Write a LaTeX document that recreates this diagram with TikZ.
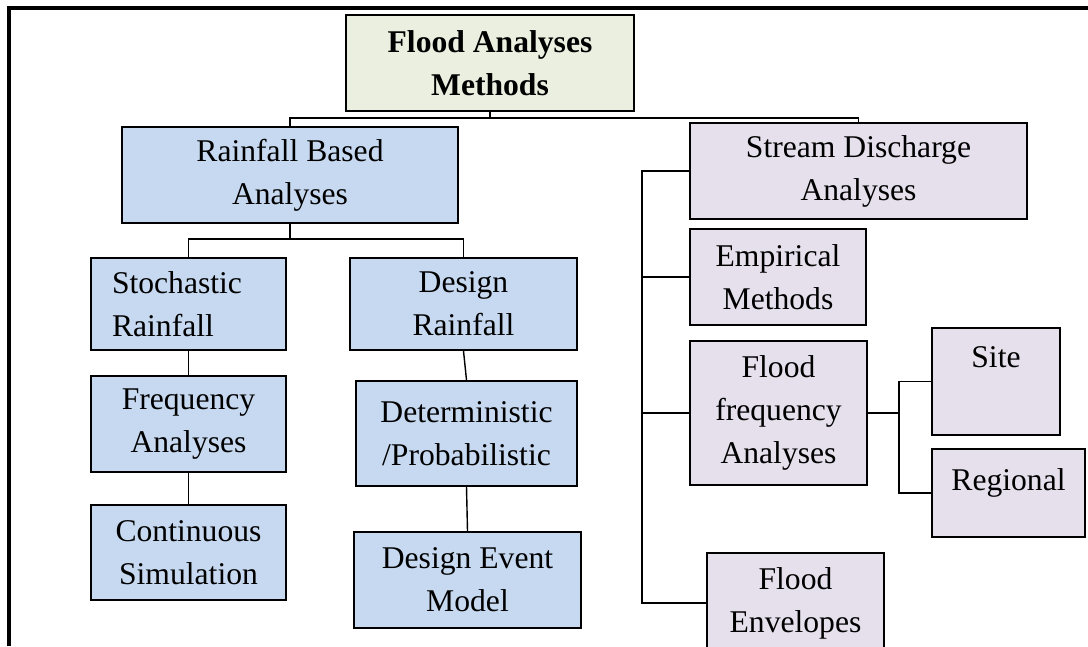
\documentclass[tikz,border=0pt]{standalone}
\usepackage{fontspec}
\setmainfont{Liberation Serif}
\usepackage{tikz}
\usepackage{xcolor}
\usetikzlibrary{positioning, calc}

\definecolor{titlegreen}{HTML}{EBEFDF}
\definecolor{rainblue}{HTML}{C6D9F0}
\definecolor{streamlilac}{HTML}{E5E0EC}

\begin{document}
\begin{tikzpicture}[
    x=0.02cm, y=-0.02cm,
    box/.style={font=\fontsize{18}{24.5}\selectfont, draw, line width=1pt, align=center, inner sep=2pt},
    titlebox/.style={box, fill=titlegreen, font=\fontsize{18}{24.5}\selectfont\bfseries},
    rbox/.style={box, fill=rainblue},
    sbox/.style={box, fill=streamlilac},
    link/.style={draw, line width=0.8pt}
]

  \useasboundingbox (0,0) rectangle (1088,646);
  \clip (0,0) rectangle (1088,646);

  % outer frame (cut at right and bottom)
  \coordinate (framebl) at (9,646);
  \coordinate (frametl) at (9,8);
  \coordinate (frametr) at (1088,8);
  \draw[line width=2pt] (framebl) -- (frametl) -- (frametr);

  % Top of the tree
  \node[titlebox, minimum width=5.76cm, minimum height=1.92cm] (title) at (490,63) {Flood Analyses\\Methods};

  % Rainfall side (blue boxes)
  \node[rbox, minimum width=6.72cm, minimum height=1.92cm] (rain) at (290,175) {Rainfall Based\\Analyses};
  \node[rbox, minimum width=3.9cm, minimum height=1.84cm, text width=3.06cm, align=left, inner xsep=0.42cm] (stoch) at (188.5,304) {Stochastic\\Rainfall};
  \node[rbox, minimum width=4.54cm, minimum height=1.84cm] (design) at (463.5,304) {Design\\Rainfall};
  \node[rbox, minimum width=3.9cm, minimum height=1.92cm] (freq) at (188.5,424) {Frequency\\Analyses};
  \node[rbox, minimum width=3.9cm, minimum height=1.9cm] (cont) at (188.5,552.5) {Continuous\\Simulation};
  \node[rbox, minimum width=4.42cm, minimum height=2.1cm] (determ) at (466.5,433.5) {Deterministic\\/Probabilistic};
  \node[rbox, minimum width=4.54cm, minimum height=1.92cm] (event) at (467.5,580) {Design Event\\Model};

  % Stream discharge side (lilac boxes)
  \node[sbox, minimum width=6.74cm, minimum height=1.92cm] (stream) at (858.5,171) {Stream Discharge\\Analyses};
  \node[sbox, minimum width=3.52cm, minimum height=1.92cm] (empir) at (778,277) {Empirical\\Methods};
  \node[sbox, minimum width=3.54cm, minimum height=2.88cm] (ffreq) at (778.5,413) {Flood\\frequency\\Analyses};
  \node[sbox, minimum width=2.56cm, minimum height=2.14cm, text height=0.45cm, text depth=1.01cm] (site) at (996,381.5) {Site};
  \node[sbox, minimum width=3.06cm, minimum height=1.76cm, text height=0.45cm, text depth=0.55cm] (region) at (1008.5,493) {Regional};
  \node[sbox, minimum width=3.54cm, minimum height=2.0cm] (envel) at (795.5,603) {Flood\\Envelopes};

  % connectors
  \coordinate (tb) at (490,118);
  \draw[link] (title.south) -- (tb) -| (rain.north);
  \draw[link] (tb) -| (stream.north);

  \coordinate (rb) at (290,239);
  \draw[link] (rain.south) -- (rb) -| (stoch.north);
  \draw[link] (rb) -| (design.north);
  \draw[link] (stoch.south) -- (freq.north);
  \draw[link] (freq.south) -- (cont.north);
  \draw[link] (design.south) -- (determ.north);
  \draw[link] (determ.south) -- (event.north);

  \coordinate (trunk) at (642,171);
  \draw[link, line width=1.2pt] (stream.west) -- (trunk) |- (envel.west);
  \draw[link] (trunk) |- (empir.west);
  \draw[link] (trunk) |- (ffreq.west);

  \coordinate (fb) at (899,413);
  \draw[link] (ffreq.east) -- (fb) |- (site.west);
  \draw[link] (fb) |- (region.west);

\end{tikzpicture}
\end{document}
